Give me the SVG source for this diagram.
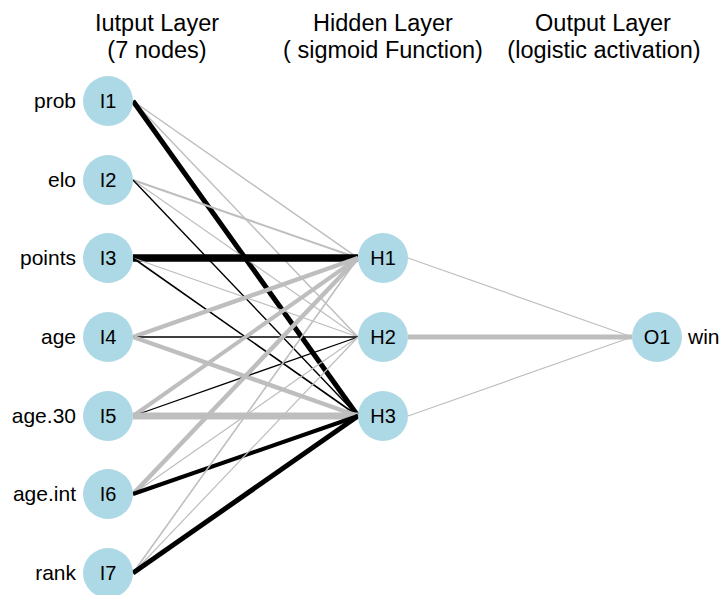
<svg xmlns="http://www.w3.org/2000/svg" width="721" height="595" viewBox="0 0 721 595">
  <style>
    .title { font-family: "Liberation Sans", Arial, sans-serif; font-size: 23.5px; fill: #000; text-anchor: middle; }
    .var { font-family: "Liberation Sans", Arial, sans-serif; font-size: 21px; fill: #000; }
    .node circle { fill: #ADD8E6; }
    .node text { font-family: "Liberation Sans", Arial, sans-serif; font-size: 20px; fill: #000; text-anchor: middle; }
    .pos { stroke: #000; fill: none; }
    .neg { stroke: #BEBEBE; fill: none; }
  </style>
  <rect width="721" height="595" fill="#fff"/>

  <!-- layer titles -->
  <g id="titles">
    <text class="title" x="157" y="31">Iutput Layer</text>
    <text class="title" x="157" y="58">(7 nodes)</text>
    <text class="title" x="383" y="31">Hidden Layer</text>
    <text class="title" x="383" y="58">( sigmoid Function)</text>
    <text class="title" x="603" y="31">Output Layer</text>
    <text class="title" x="604" y="58">(logistic activation)</text>
  </g>

  <!-- weights: black = positive, grey = negative; width ~ magnitude -->
  <g id="connectors">
    <!-- input -> hidden -->
    <line class="neg" x1="133" y1="101" x2="358" y2="258" stroke-width="1.5"/>
    <line class="neg" x1="133" y1="101" x2="358" y2="337" stroke-width="1.5"/>
    <line class="pos" x1="133" y1="101" x2="358" y2="416" stroke-width="5"/>

    <line class="neg" x1="133" y1="180" x2="358" y2="258" stroke-width="2"/>
    <line class="neg" x1="133" y1="180" x2="358" y2="337" stroke-width="1.2"/>
    <line class="pos" x1="133" y1="180" x2="358" y2="416" stroke-width="1.4"/>

    <line class="pos" x1="133" y1="258" x2="358" y2="258" stroke-width="7.5"/>
    <line class="neg" x1="133" y1="258" x2="358" y2="337" stroke-width="1.2"/>
    <line class="pos" x1="133" y1="258" x2="358" y2="416" stroke-width="1.6"/>

    <line class="neg" x1="133" y1="337" x2="358" y2="258" stroke-width="4.5"/>
    <line class="pos" x1="133" y1="337" x2="358" y2="337" stroke-width="1.3"/>
    <line class="neg" x1="133" y1="337" x2="358" y2="416" stroke-width="4.5"/>

    <line class="neg" x1="133" y1="416" x2="358" y2="258" stroke-width="4"/>
    <line class="pos" x1="133" y1="416" x2="358" y2="337" stroke-width="1.3"/>
    <line class="neg" x1="133" y1="416" x2="358" y2="416" stroke-width="7"/>

    <line class="neg" x1="133" y1="494" x2="358" y2="258" stroke-width="4.5"/>
    <line class="neg" x1="133" y1="494" x2="358" y2="337" stroke-width="1.2"/>
    <line class="pos" x1="133" y1="494" x2="358" y2="416" stroke-width="4"/>

    <line class="neg" x1="133" y1="573" x2="358" y2="258" stroke-width="1.6"/>
    <line class="neg" x1="133" y1="573" x2="358" y2="337" stroke-width="1.2"/>
    <line class="pos" x1="133" y1="573" x2="358" y2="416" stroke-width="5"/>

    <!-- hidden -> output -->
    <line class="neg" x1="408" y1="258" x2="632" y2="337" stroke-width="1.2"/>
    <line class="neg" x1="408" y1="337" x2="632" y2="337" stroke-width="5"/>
    <line class="neg" x1="408" y1="416" x2="632" y2="337" stroke-width="1.2"/>
  </g>

  <!-- input variable names -->
  <g id="variables">
    <text class="var" x="76" y="108" text-anchor="end">prob</text>
    <text class="var" x="76" y="187" text-anchor="end">elo</text>
    <text class="var" x="76" y="265" text-anchor="end">points</text>
    <text class="var" x="76" y="344" text-anchor="end">age</text>
    <text class="var" x="76" y="423" text-anchor="end">age.30</text>
    <text class="var" x="76" y="501" text-anchor="end">age.int</text>
    <text class="var" x="76" y="580" text-anchor="end">rank</text>
    <text class="var" x="688" y="344">win</text>
  </g>

  <g id="I1" class="node"><circle cx="108" cy="101" r="25"/><text x="108" y="108">I1</text></g>
  <g id="I2" class="node"><circle cx="108" cy="180" r="25"/><text x="108" y="187">I2</text></g>
  <g id="I3" class="node"><circle cx="108" cy="258" r="25"/><text x="108" y="265">I3</text></g>
  <g id="I4" class="node"><circle cx="108" cy="337" r="25"/><text x="108" y="344">I4</text></g>
  <g id="I5" class="node"><circle cx="108" cy="416" r="25"/><text x="108" y="423">I5</text></g>
  <g id="I6" class="node"><circle cx="108" cy="494" r="25"/><text x="108" y="501">I6</text></g>
  <g id="I7" class="node"><circle cx="108" cy="573" r="25"/><text x="108" y="580">I7</text></g>

  <g id="H1" class="node"><circle cx="383" cy="258" r="25"/><text x="383" y="265">H1</text></g>
  <g id="H2" class="node"><circle cx="383" cy="337" r="25"/><text x="383" y="344">H2</text></g>
  <g id="H3" class="node"><circle cx="383" cy="416" r="25"/><text x="383" y="423">H3</text></g>

  <g id="O1" class="node"><circle cx="657" cy="337" r="25"/><text x="657" y="344">O1</text></g>
</svg>
